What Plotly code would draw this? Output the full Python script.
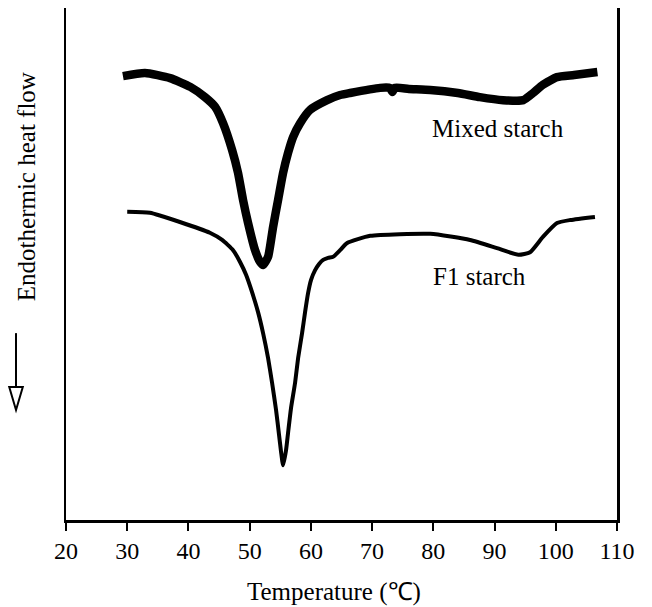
import plotly.graph_objects as go

# Temperature (deg C) and endothermic heat flow (arbitrary units)
mixed_temp = [29.3, 32.9, 37.0, 40.3, 42.7, 44.35, 45.65, 47.12, 48.10, 48.92, 49.74,
              50.88, 51.70, 52.19, 53.01, 53.82, 54.64, 55.46, 56.27, 57.09, 58.24,
              59.87, 62.65, 64.77, 66.4, 71.3, 72.9, 73.3, 73.7, 76.0, 79.5, 84.0,
              87.6, 91.4, 94.7, 96.3, 97.9, 100.2, 103.0, 106.8]
mixed_flow = [86.7, 87.3, 86.3, 84.6, 82.6, 80.7, 77.5, 72.3, 67.8, 62.5, 58.0,
              52.7, 50.4, 49.8, 51.4, 57.2, 62.5, 67.8, 71.7, 74.8, 77.5,
              80.1, 82.0, 83.0, 83.4, 84.4, 84.4, 83.6, 84.4, 84.2, 84.0, 83.4,
              82.6, 82.0, 82.0, 83.4, 85.0, 86.5, 86.9, 87.5]

f1_temp = [30.0, 33.7, 38.6, 43.5, 45.5, 47.29, 48.43, 49.41, 50.39, 51.37, 52.19,
           53.01, 53.66, 54.31, 54.80, 55.13, 55.46, 55.95, 56.27, 56.76, 57.42,
           57.91, 58.56, 59.05, 59.54, 60.03, 60.69, 61.34, 62.0, 62.81, 63.63,
           64.77, 65.92, 69.7, 79.5, 86.0, 90.4, 93.9, 95.8, 97.9, 100.2, 102.4, 106.4]
f1_flow = [60.2, 60.0, 58.2, 56.1, 54.7, 52.7, 50.4, 47.9, 44.5, 40.6, 36.5,
           31.6, 26.8, 21.5, 16.6, 13.3, 10.7, 13.7, 17.0, 21.9, 26.8,
           31.6, 36.5, 40.6, 44.3, 46.9, 48.8, 50.0, 50.8, 51.2, 51.4,
           52.7, 54.1, 55.5, 55.9, 54.7, 53.1, 51.8, 52.3, 55.3, 58.0, 58.6, 59.2]

x_ticks = [20, 30, 40, 50, 60, 70, 80, 90, 100, 110]
series_labels = ["Mixed starch", "F1 starch"]
label_pos = [(90.6, 76.4), (87.6, 47.5)]

FONT = "Liberation Serif, Times New Roman, serif"

fig = go.Figure()
fig.add_trace(go.Scatter(x=mixed_temp, y=mixed_flow, mode="lines",
                         line=dict(color="black", width=8.5, shape="spline", smoothing=0.5),
                         name=series_labels[0], showlegend=False))
fig.add_trace(go.Scatter(x=f1_temp, y=f1_flow, mode="lines",
                         line=dict(color="black", width=4, shape="spline", smoothing=0.5),
                         name=series_labels[1], showlegend=False))

for lab, (lx, ly) in zip(series_labels, label_pos):
    fig.add_annotation(x=lx, y=ly, text=lab, showarrow=False,
                       font=dict(family=FONT, size=25, color="black"),
                       xanchor="center", yanchor="middle")

# axis titles
fig.add_annotation(xref="paper", yref="paper", x=0.487, y=-0.1406,
                   text="Temperature (℃)", showarrow=False,
                   font=dict(family=FONT, size=25, color="black"),
                   xanchor="center", yanchor="middle")
fig.add_annotation(xref="paper", yref="paper", x=-0.0726, y=0.652,
                   text="Endothermic heat flow", showarrow=False, textangle=-90,
                   font=dict(family=FONT, size=25, color="black"),
                   xanchor="center", yanchor="middle")

# downward arrow (endothermic direction)
fig.add_shape(type="line", xref="paper", yref="paper",
              x0=-0.0907, x1=-0.0907, y0=0.365, y1=0.258,
              line=dict(color="black", width=2))
fig.add_shape(type="path", xref="paper", yref="paper",
              path="M -0.1030 0.2598 L -0.0784 0.2598 L -0.0907 0.2148 Z",
              fillcolor="white", line=dict(color="black", width=2))

fig.update_xaxes(range=[20, 110], tickvals=x_ticks, ticktext=[str(t) for t in x_ticks],
                 showline=True, linecolor="black", linewidth=2.5, mirror=False,
                 ticks="outside", ticklen=8, tickwidth=2, tickcolor="black",
                 showgrid=False, zeroline=False,
                 tickfont=dict(family=FONT, size=24, color="black"))
fig.update_yaxes(range=[0, 100], showline=True, linecolor="black", linewidth=2.5,
                 mirror=True, ticks="", showticklabels=False,
                 showgrid=False, zeroline=False)

fig.update_layout(width=652, height=607,
                  margin=dict(l=66, r=35, t=8, b=87),
                  paper_bgcolor="white", plot_bgcolor="white",
                  showlegend=False)

fig.write_html("out.html", config={"displayModeBar": False, "staticPlot": True},
               post_script="document.body.style.margin='0px';")
